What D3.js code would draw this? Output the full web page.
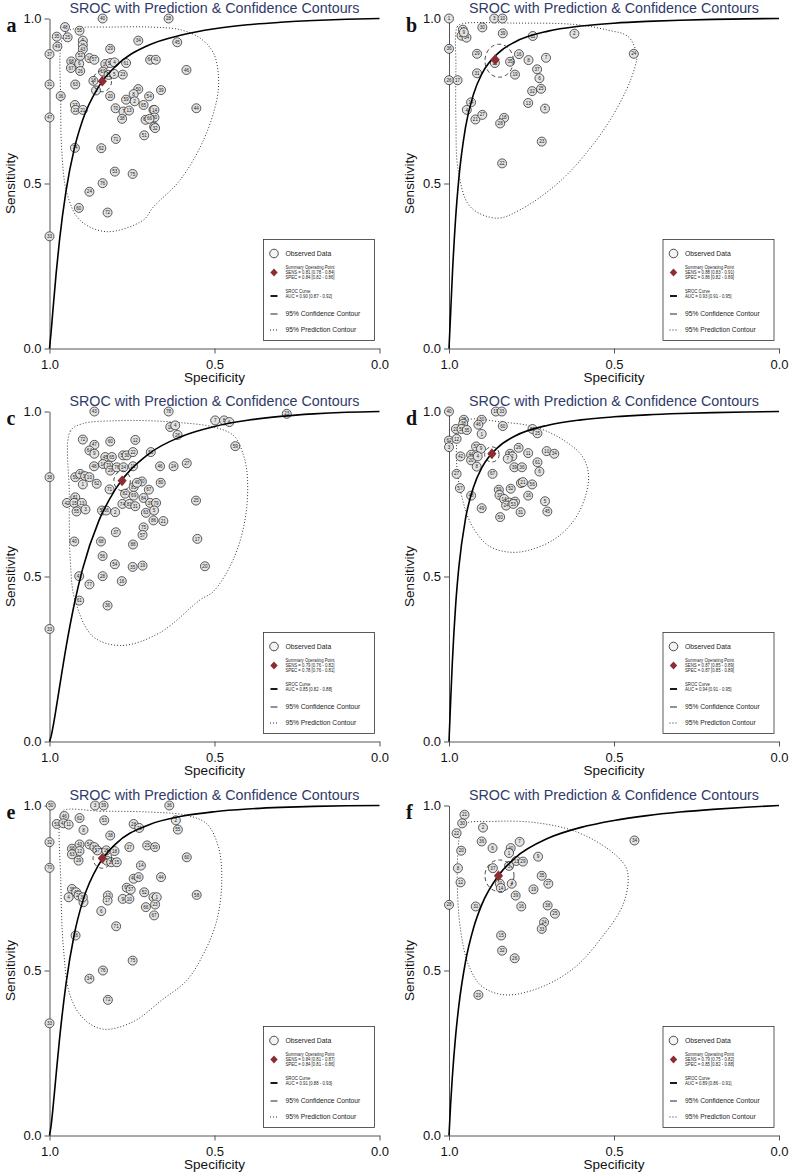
<!DOCTYPE html>
<html><head><meta charset="utf-8">
<script src="https://cdn.jsdelivr.net/npm/d3@7"></script>
<style>body{margin:0;background:#fff}svg{display:block}</style>
</head><body><svg id="chart" width="791" height="1175"></svg>
<script>
// ---------- DATA ----------
const titleText = "SROC with Prediction & Confidence Contours";
const panelLetters = ["a","b","c","d","e","f"];
const axisTicks = [0, 0.5, 1];
const fprGrid = [0,.005,.01,.02,.03,.05,.075,.1,.15,.2,.3,.4,.5,.6,.7,.8,.9,1];

const curveA = [0,.0515,.1116,.226,.325,.477,.605,.691,.795,.855,.919,.950,.969,.981,.9885,.994,.9977,1];
const curveB = [0,.108,.219,.394,.517,.670,.773,.833,.896,.929,.9617,.9771,.9858,.9912,.9948,.9973,.999,1];
const curveC = [0,.0164,.041,.0996,.1623,.2846,.416,.5215,.670,.765,.871,.9245,.9548,.9734,.9851,.9928,.9976,1];
const curveD = [0,.1223,.2372,.411,.5297,.675,.773,.8305,.893,.9257,.9586,.9747,.9839,.9899,.9939,.9967,.9987,1];
const curveE = [0,.0308,.0777,.184,.288,.4596,.609,.708,.822,.883,.9412,.9675,.9813,.9893,.9942,.9973,.9991,1];
const curveF = [0,.096,.1758,.301,.395,.5265,.631,.701,.788,.841,.9006,.9337,.9548,.9694,.9801,.9883,.9948,1];

// summary [spec, sens]
const summaryA = [.84,.81], summaryB = [.86,.875], summaryC = [.78,.79];
const summaryD = [.87,.872], summaryE = [.84,.84], summaryF = [.85,.787];
// confidence contour [spec, sens, halfSpec, halfSens]
const confA = [.84,.81,.028,.032], confB = [.848,.872,.043,.05], confC = [.78,.79,.025,.03];
const confD = [.87,.87,.022,.023], confE = [.84,.84,.028,.03], confF = [.847,.787,.044,.048];

const legendA = ["SENS = 0.81 [0.78 - 0.84]","SPEC = 0.84 [0.82 - 0.86]","AUC = 0.90 [0.87 - 0.92]"];
const legendB = ["SENS = 0.88 [0.83 - 0.91]","SPEC = 0.86 [0.82 - 0.89]","AUC = 0.93 [0.91 - 0.95]"];
const legendC = ["SENS = 0.79 [0.76 - 0.82]","SPEC = 0.78 [0.76 - 0.81]","AUC = 0.85 [0.82 - 0.88]"];
const legendD = ["SENS = 0.87 [0.85 - 0.89]","SPEC = 0.87 [0.85 - 0.89]","AUC = 0.94 [0.91 - 0.95]"];
const legendE = ["SENS = 0.84 [0.81 - 0.87]","SPEC = 0.84 [0.81 - 0.86]","AUC = 0.91 [0.88 - 0.93]"];
const legendF = ["SENS = 0.79 [0.75 - 0.82]","SPEC = 0.85 [0.82 - 0.88]","AUC = 0.89 [0.86 - 0.91]"];

// prediction contours [spec, sens]
const predA = [[.966,.915],[.953,.956],[.917,.971],[.816,.974],[.695,.974],[.604,.966],[.543,.94],[.503,.895],[.488,.824],[.493,.754],[.533,.632],[.604,.511],[.686,.428],[.716,.389],[.827,.354],[.908,.389],[.947,.47],[.963,.602],[.966,.754]];
const predB = [[.979,.85],[.975,.975],[.96,.984],[.80,.986],[.62,.982],[.52,.965],[.457,.945],[.431,.89],[.436,.855],[.467,.774],[.54,.65],[.66,.51],[.785,.42],[.856,.395],[.936,.43],[.972,.54],[.979,.69]];
const predC = [[.94,.75],[.937,.94],[.90,.963],[.80,.972],[.70,.972],[.60,.966],[.503,.953],[.442,.927],[.412,.867],[.40,.796],[.407,.675],[.442,.554],[.503,.455],[.544,.429],[.665,.33],[.781,.291],[.868,.318],[.923,.43],[.937,.55]];
const predD = [[.946,.973],[.84,.968],[.739,.953],[.659,.917],[.598,.867],[.578,.816],[.583,.756],[.618,.675],[.679,.614],[.76,.579],[.82,.574],[.881,.594],[.931,.655],[.962,.745],[.977,.846],[.972,.927]];
const predE = [[.958,.985],[.846,.983],[.695,.98],[.584,.97],[.523,.944],[.488,.874],[.478,.773],[.493,.652],[.533,.551],[.584,.47],[.66,.41],[.746,.345],[.837,.322],[.898,.355],[.938,.426],[.958,.571],[.966,.773],[.968,.965]];
const predF = [[.96,.941],[.859,.952],[.737,.948],[.616,.921],[.515,.866],[.465,.815],[.457,.775],[.475,.694],[.535,.603],[.616,.512],[.717,.451],[.828,.426],[.899,.451],[.939,.512],[.965,.623],[.975,.775],[.97,.896]];

// observed studies [label, spec, sens]
const studiesA = [["40",.839,1],["28",.639,1],["48",.953,.974],["35",.978,.945],["25",.945,.943],["55",.909,.963],["49",.976,.915],
["9",.899,.933],["11",.899,.92],["43",.899,.907],["34",.731,.933],["45",.613,.928],["37",1,.892],["29",.816,.908],["68",.934,.87],
["6",.91,.863],["67",.935,.85],["26",.907,.841],["52",.907,.887],["16",.879,.88],["57",.864,.875],["15",.831,.862],["58",.816,.865],
["4",.803,.867],["61",.768,.865],["64",.695,.875],["41",.678,.875],["46",.585,.844],["63",.922,.8],["31",1,.8],["19",.838,.839],
["12",.821,.829],["5",.804,.832],["23",.778,.83],["18",.867,.811],["36",.966,.765],["3",.859,.782],["20",.816,.765],["50",.731,.786],
["39",.662,.783],["54",.698,.764],["8",.745,.771],["59",.768,.754],["2",.742,.749],["65",.715,.738],["27",.923,.738],["22",.921,.723],
["21",.899,.723],["70",.8,.728],["7",.776,.718],["13",.759,.721],["38",.78,.696],["1",.685,.723],["14",.682,.723],["30",.682,.7],
["69",.709,.693],["66",.697,.696],["56",.683,.672],["32",.68,.668],["44",.555,.728],["47",1,.7],["51",.713,.646],["71",.799,.635],
["74",.923,.608],["62",.843,.607],["53",.802,.536],["75",.748,.529],["76",.839,.501],["24",.879,.475],["60",.911,.426],["72",.824,.412],["33",1,.34]];
const studiesB = [["1",1,1],["3",.863,1],["10",.838,1],["30",.899,.973],["15",.958,.966],["20",.962,.948],["34",.947,.942],["9",.955,.958],
["39",.837,.955],["11",.746,.947],["2",.62,.954],["36",1,.908],["29",.915,.893],["16",.788,.892],["8",.759,.874],["7",.706,.881],["24",.44,.893],
["12",.861,.865],["35",.815,.869],["31",.915,.834],["19",.8,.83],["37",.733,.846],["6",.726,.819],["26",1,.813],["17",.974,.813],
["32",.748,.78],["25",.721,.787],["13",.76,.744],["5",.709,.727],["14",.933,.746],["4",.946,.723],["21",.92,.694],["27",.899,.708],
["18",.833,.699],["28",.845,.682],["23",.719,.627],["22",.839,.561]];
const studiesC = [["43",.864,1],["78",.639,1],["23",.281,.993],["7",.498,.973],["8",.471,.973],["6",.455,.968],["18",.634,.953],["4",.619,.958],
["26",.612,.929],["72",.899,.915],["47",.864,.899],["60",.816,.909],["12",.74,.914],["59",.437,.895],["64",.879,.882],["9",.864,.872],
["45",.831,.862],["65",.811,.862],["58",.777,.867],["30",.766,.867],["22",.747,.877],["53",.693,.877],["48",.865,.834],["14",.838,.841],
["73",.821,.836],["29",.816,.821],["76",.796,.831],["34",.776,.831],["11",.747,.834],["46",.665,.834],["24",.624,.834],["27",.584,.843],
["38",1,.801],["50",.922,.801],["44",.907,.811],["32",.892,.804],["10",.879,.801],["1",.899,.779],["62",.857,.781],["71",.818,.764],
["85",.745,.771],["70",.72,.788],["49",.735,.784],["67",.699,.763],["80",.663,.784],["82",.771,.751],["69",.745,.745],["84",.715,.738],
["25",.556,.73],["81",.922,.74],["42",.947,.723],["15",.925,.723],["13",.902,.723],["55",.918,.697],["3",.891,.703],["52",.841,.7],
["66",.828,.7],["2",.801,.695],["74",.779,.72],["83",.758,.72],["31",.74,.713],["39",.695,.723],["79",.677,.723],["63",.708,.693],
["5",.683,.7],["86",.685,.67],["21",.655,.668],["37",.799,.634],["75",.715,.649],["57",.718,.626],["17",.552,.614],["40",.925,.606],
["68",.844,.606],["88",.747,.597],["56",.839,.562],["54",.802,.537],["35",.748,.529],["19",.718,.533],["20",.529,.531],["41",.91,.501],
["28",.839,.501],["77",.879,.476],["16",.781,.486],["61",.91,.427],["36",.824,.412],["33",1,.341]];
const studiesD = [["40",1,1],["19",.858,1],["33",.84,1],["28",.955,.975],["38",.957,.963],["23",.979,.947],["58",.962,.947],["35",.946,.944],
["30",.901,.975],["46",.911,.96],["1",.901,.932],["60",.837,.956],["55",.747,.947],["25",.732,.934],["62",1,.912],["3",1,.892],["12",.977,.917],
["51",.918,.894],["9",.903,.887],["42",.965,.864],["44",.933,.869],["20",.933,.852],["4",.913,.864],["8",.916,.833],["26",.789,.89],
["11",.76,.874],["10",.704,.88],["34",.681,.872],["54",.815,.872],["2",.808,.864],["7",.822,.857],["39",.802,.831],["36",.779,.831],
["61",.732,.846],["6",.726,.818],["67",.868,.811],["27",.977,.811],["57",.967,.768],["48",.933,.745],["29",.782,.783],["21",.776,.786],
["56",.748,.779],["52",.813,.766],["59",.849,.763],["37",.847,.747],["16",.76,.745],["14",.833,.735],["41",.817,.724],["47",.8,.727],
["24",.827,.715],["53",.805,.72],["5",.709,.728],["45",.702,.697],["49",.901,.707],["31",.783,.695],["50",.845,.68]];
const studiesE = [["50",.996,1],["3",.862,1],["39",.836,1],["36",.637,1],["46",.955,.968],["51",.978,.944],["41",.958,.946],["11",.942,.942],
["62",.909,.962],["53",.834,.955],["8",.897,.926],["28",.745,.944],["26",.728,.932],["2",.617,.955],["55",.611,.927],["32",1,.889],
["38",.816,.909],["43",.909,.882],["68",.932,.869],["12",.909,.862],["63",.932,.852],["29",.912,.833],["54",.879,.882],["31",.864,.874],
["57",.855,.864],["19",.828,.864],["18",.803,.862],["5",.826,.833],["20",.813,.828],["15",.796,.828],["27",.758,.874],["25",.704,.879],
["59",.68,.874],["60",.584,.843],["70",1,.811],["14",.723,.818],["48",.745,.778],["40",.73,.783],["44",.662,.783],["65",.766,.751],
["37",.754,.745],["35",.932,.747],["47",.919,.737],["4",.942,.722],["21",.912,.727],["7",.897,.707],["30",.899,.722],["13",.823,.727],
["17",.824,.712],["9",.778,.717],["10",.758,.717],["52",.713,.737],["49",.685,.722],["1",.675,.722],["58",.554,.729],["66",.708,.692],
["23",.68,.7],["67",.683,.667],["6",.843,.68],["71",.798,.634],["16",.921,.606],["75",.748,.53],["76",.838,.5],["34",.879,.475],
["72",.823,.411],["33",1,.34]];
const studiesF = [["21",.953,.972],["30",.96,.946],["2",.897,.933],["22",.977,.916],["36",.901,.891],["6",.868,.871],["7",.786,.89],
["40",.813,.871],["1",.818,.856],["20",.963,.863],["9",.73,.845],["13",.796,.832],["29",.776,.83],["3",.818,.817],["37",.867,.81],
["8",.973,.81],["35",.719,.787],["12",.965,.767],["27",.699,.763],["11",.846,.763],["14",.843,.75],["4",.81,.763],["19",.744,.746],
["39",.798,.727],["28",1,.699],["31",.919,.694],["16",.781,.694],["38",.701,.697],["25",.679,.672],["24",.712,.646],["33",.719,.626],
["15",.842,.606],["32",.839,.56],["26",.801,.537],["23",.911,.426],["34",.438,.894]];

// ---------- BUILD ----------
const panels = [
 {studies:studiesA, curve:curveA, pred:predA, conf:confA, summary:summaryA, legend:legendA},
 {studies:studiesB, curve:curveB, pred:predB, conf:confB, summary:summaryB, legend:legendB},
 {studies:studiesC, curve:curveC, pred:predC, conf:confC, summary:summaryC, legend:legendC},
 {studies:studiesD, curve:curveD, pred:predD, conf:confD, summary:summaryD, legend:legendD},
 {studies:studiesE, curve:curveE, pred:predE, conf:confE, summary:summaryE, legend:legendE},
 {studies:studiesF, curve:curveF, pred:predF, conf:confF, summary:summaryF, legend:legendF}
];
const colX = [49.5, 449];
const rowB = [348.5, 741.5, 1135.5];
const W = 330, H = 330;
const FONT = "'Liberation Sans', Arial, sans-serif";
const svg = d3.select("#chart");
const diamond = (cx, cy, hw, hh) => `M${cx},${cy-hh}L${cx+hw},${cy}L${cx},${cy+hh}L${cx-hw},${cy}Z`;

panels.forEach((p, i) => {
  const x0 = colX[i % 2], yb = rowB[Math.floor(i / 2)];
  const x = d3.scaleLinear().domain([1, 0]).range([x0, x0 + W]);
  const y = d3.scaleLinear().domain([0, 1]).range([yb, yb - H]);
  const g = svg.append("g");

  // axes
  const ax = g.append("g").attr("transform", `translate(${x0},0)`)
    .call(d3.axisLeft(y).tickValues(axisTicks).tickFormat(d3.format(".1f")).tickSize(5).tickPadding(3).tickSizeOuter(0));
  const bx = g.append("g").attr("transform", `translate(0,${yb})`)
    .call(d3.axisBottom(x).tickValues(axisTicks).tickFormat(d3.format(".1f")).tickSize(5).tickPadding(6).tickSizeOuter(0));
  [ax, bx].forEach(a => {
    a.attr("font-family", FONT).attr("font-size", 13);
    a.selectAll("path,line").attr("stroke", "#555").attr("stroke-width", 1);
    a.selectAll("text").attr("fill", "#111");
  });

  // labels
  g.append("text").attr("x", x0 + W / 2).attr("y", yb - H - 6).attr("text-anchor", "middle")
    .attr("font-family", FONT).attr("font-size", 14.3).attr("fill", "#2f3a6a").text(titleText);
  g.append("text").attr("x", x0 + W / 2).attr("y", yb + 33).attr("text-anchor", "middle")
    .attr("font-family", FONT).attr("font-size", 13.5).attr("fill", "#111").text("Specificity");
  g.append("text").attr("transform", `translate(${x0 - 35},${yb - H / 2}) rotate(-90)`).attr("text-anchor", "middle")
    .attr("font-family", FONT).attr("font-size", 13.5).attr("fill", "#111").text("Sensitivity");
  g.append("text").attr("x", x0 - 43).attr("y", yb - H + 13.5)
    .attr("font-family", "'Liberation Serif', 'Times New Roman', serif").attr("font-weight", "bold")
    .attr("font-size", 20).attr("fill", "#111").text(panelLetters[i]);

  // prediction contour
  g.append("path").datum(p.pred)
    .attr("d", d3.line().x(d => x(d[0])).y(d => y(d[1])).curve(d3.curveCatmullRomClosed.alpha(0.5)))
    .attr("fill", "none").attr("stroke", "#333").attr("stroke-width", 1).attr("stroke-dasharray", "1,2");

  // observed studies
  const pts = g.append("g");
  const sel = pts.selectAll("g").data(p.studies).join("g")
    .attr("transform", d => `translate(${x(d[1])},${y(d[2])})`);
  sel.append("circle").attr("r", 4.5).attr("fill", "#e2e2e2").attr("stroke", "#2a2a2a").attr("stroke-width", 0.75);
  sel.append("text").attr("text-anchor", "middle").attr("dy", "0.35em")
    .attr("font-family", FONT).attr("font-size", 4.6).attr("fill", "#222").text(d => d[0]);

  // SROC curve
  g.append("path").datum(fprGrid.map((f, k) => [1 - f, p.curve[k]]))
    .attr("d", d3.line().x(d => x(d[0])).y(d => y(d[1])).curve(d3.curveMonotoneX))
    .attr("fill", "none").attr("stroke", "#000").attr("stroke-width", 1.6);

  // confidence contour
  const c = p.conf;
  g.append("ellipse").attr("cx", x(c[0])).attr("cy", y(c[1]))
    .attr("rx", Math.abs(x(c[0] - c[2]) - x(c[0]))).attr("ry", Math.abs(y(c[1] + c[3]) - y(c[1])))
    .attr("fill", "none").attr("stroke", "#333").attr("stroke-width", 0.9).attr("stroke-dasharray", "4,3");

  // summary point
  g.append("path").attr("d", diamond(x(p.summary[0]), y(p.summary[1]), 4.6, 5.4)).attr("fill", "#8b2e33");

  // legend
  const lx = x0 + 214, ly = yb - 109, lw = 111, lh = 101;
  const L = g.append("g").attr("font-family", FONT).attr("fill", "#222");
  L.append("rect").attr("x", lx).attr("y", ly).attr("width", lw).attr("height", lh)
    .attr("fill", "#fff").attr("stroke", "#333").attr("stroke-width", 0.8);
  const sx = lx + 10.5, tx = lx + 22;
  L.append("circle").attr("cx", sx).attr("cy", ly + 14).attr("r", 4.3).attr("fill", "#f4f4f4").attr("stroke", "#222").attr("stroke-width", 0.8);
  const txt = (yy, s, fs, len) => {
    const t = L.append("text").attr("x", tx).attr("y", yy).attr("dy", "0.35em").attr("font-size", fs).attr("fill", "#222").text(s);
    if (len) t.attr("textLength", len).attr("lengthAdjust", "spacingAndGlyphs");
  };
  txt(ly + 14, "Observed Data", 6.8);
  L.append("path").attr("d", diamond(sx, ly + 33, 3.7, 3.9)).attr("fill", "#8b2e33");
  txt(ly + 27.5, "Summary Operating Point", 5.3, 49);
  txt(ly + 32.5, p.legend[0], 5.3, 49);
  txt(ly + 37.5, p.legend[1], 5.3, 49);
  L.append("line").attr("x1", sx - 3.5).attr("x2", sx + 3.5).attr("y1", ly + 56.5).attr("y2", ly + 56.5)
    .attr("stroke", "#000").attr("stroke-width", 1.8);
  txt(ly + 52, "SROC Curve", 5.3, 25);
  txt(ly + 57, p.legend[2], 5.3, 46.5);
  L.append("line").attr("x1", sx - 3.5).attr("x2", sx + 3.5).attr("y1", ly + 74.5).attr("y2", ly + 74.5)
    .attr("stroke", "#555").attr("stroke-width", 1.3);
  txt(ly + 74.5, "95% Confidence Contour", 6.7);
  L.append("line").attr("x1", sx - 4).attr("x2", sx + 4).attr("y1", ly + 90.5).attr("y2", ly + 90.5)
    .attr("stroke", "#222").attr("stroke-width", 1).attr("stroke-dasharray", "1,2");
  txt(ly + 90.5, "95% Prediction Contour", 6.7);
});
</script></body></html>
